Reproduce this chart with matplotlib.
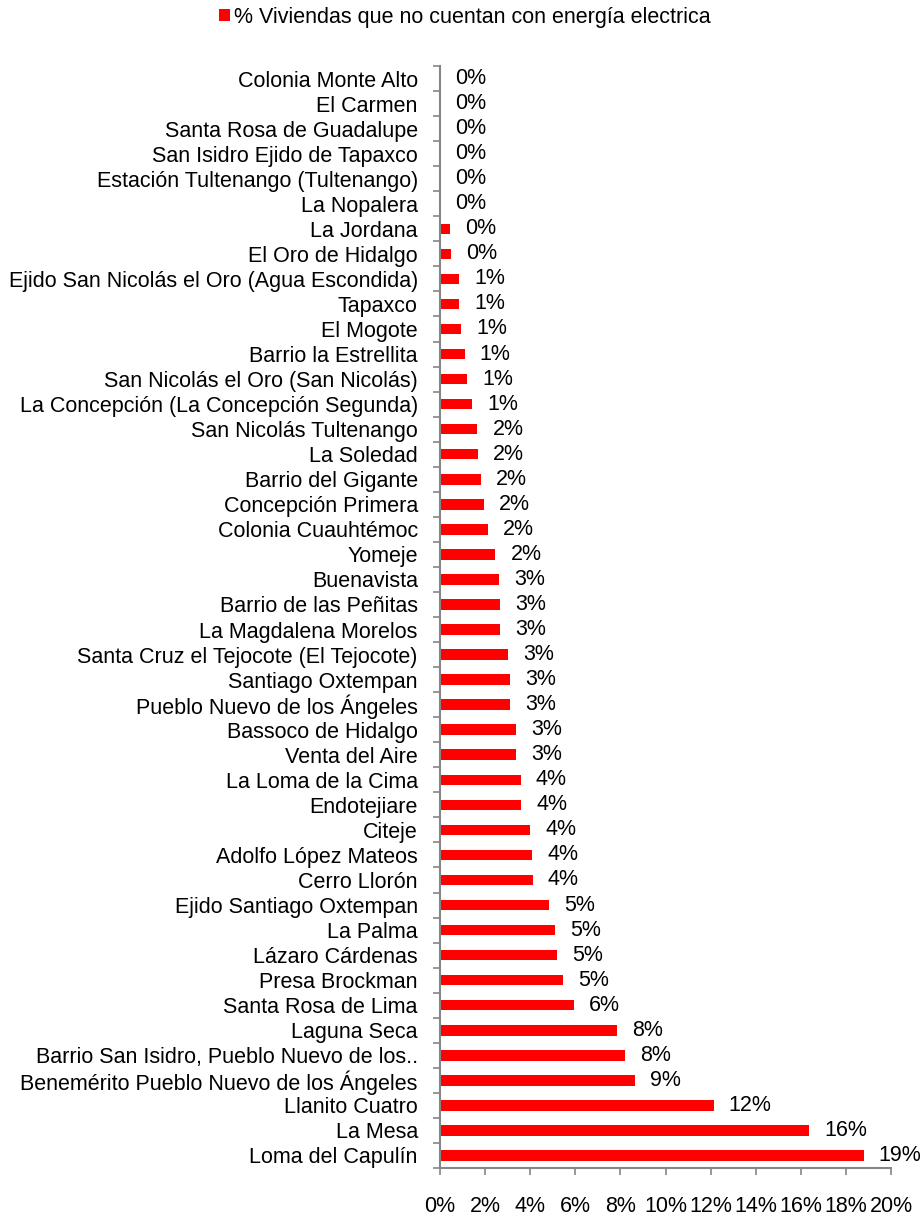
import matplotlib
matplotlib.use("Agg")
import matplotlib.pyplot as plt
from matplotlib.ticker import MultipleLocator, FuncFormatter
import numpy as np

plt.rcParams['font.family'] = ['Liberation Sans', 'DejaVu Sans']

categories = [
    "Colonia Monte Alto", "El Carmen", "Santa Rosa de Guadalupe",
    "San Isidro Ejido de Tapaxco", "Estación Tultenango (Tultenango)",
    "La Nopalera", "La Jordana", "El Oro de Hidalgo",
    "Ejido San Nicolás el Oro (Agua Escondida)", "Tapaxco", "El Mogote",
    "Barrio la Estrellita", "San Nicolás el Oro (San Nicolás)",
    "La Concepción (La Concepción Segunda)", "San Nicolás Tultenango",
    "La Soledad", "Barrio del Gigante", "Concepción Primera",
    "Colonia Cuauhtémoc", "Yomeje", "Buenavista", "Barrio de las Peñitas",
    "La Magdalena Morelos", "Santa Cruz el Tejocote (El Tejocote)",
    "Santiago Oxtempan", "Pueblo Nuevo de los Ángeles", "Bassoco de Hidalgo",
    "Venta del Aire", "La Loma de la Cima", "Endotejiare", "Citeje",
    "Adolfo López Mateos", "Cerro Llorón", "Ejido Santiago Oxtempan",
    "La Palma", "Lázaro Cárdenas", "Presa Brockman", "Santa Rosa de Lima",
    "Laguna Seca", "Barrio San Isidro, Pueblo Nuevo de los..",
    "Benemérito Pueblo Nuevo de los Ángeles", "Llanito Cuatro", "La Mesa",
    "Loma del Capulín",
]

values = [
    0.0, 0.0, 0.0, 0.0, 0.0, 0.0, 0.44, 0.49, 0.84, 0.84, 0.95, 1.10, 1.21,
    1.42, 1.66, 1.67, 1.80, 1.94, 2.13, 2.46, 2.62, 2.66, 2.68, 3.03, 3.12,
    3.12, 3.37, 3.38, 3.58, 3.60, 4.00, 4.08, 4.11, 4.84, 5.09, 5.18, 5.44,
    5.95, 7.86, 8.21, 8.65, 12.13, 16.38, 18.79,
]

legend_label = "% Viviendas que no cuentan con energía electrica"
bar_color = "#FF0000"
axis_color = "#868686"
FS = 15.5

W, H = 923, 1217
fig = plt.figure(figsize=(W / 100, H / 100), dpi=100)
ax = fig.add_axes([440 / W, 1 - 1168 / H, (891 - 440) / W, (1168 - 66) / H])

y = np.arange(len(categories))
bars = ax.barh(y, values, height=0.42, color=bar_color, label=legend_label)

ax.set_xlim(0, 20)
ax.set_ylim(len(categories) - 0.5, -0.5)

for yi, v in zip(y, values):
    ax.annotate(f"{v:.0f}%", xy=(v, yi), xytext=(15, 0), textcoords="offset pixels",
                ha="left", va="center", fontsize=FS, color="black",
                bbox=dict(facecolor="white", edgecolor="none", pad=0.5),
                annotation_clip=False)

ax.set_yticks(y)
ax.set_yticklabels(categories, fontsize=FS)
ax.tick_params(axis="y", which="major", length=0, pad=16)
ax.yaxis.set_minor_locator(MultipleLocator(1, offset=0.5))
ax.tick_params(axis="y", which="minor", length=5, width=1.2, color=axis_color, direction="out")

ax.xaxis.set_major_locator(MultipleLocator(2))
ax.xaxis.set_major_formatter(FuncFormatter(lambda v, p: f"{v:.0f}%"))
ax.tick_params(axis="x", which="major", length=5, width=1.2, color=axis_color,
               labelsize=FS, pad=15)

for s in ["top", "right"]:
    ax.spines[s].set_visible(False)
for s in ["left", "bottom"]:
    ax.spines[s].set_color(axis_color)
    ax.spines[s].set_linewidth(1.5)

leg = fig.legend(handles=[bars], labels=[legend_label], loc="center",
                 bbox_to_anchor=(465 / W, 1 - 17 / H), frameon=False, fontsize=FS,
                 handlelength=0.5, handleheight=0.5, handletextpad=0.2)

fig.savefig("out.png", dpi=100)
